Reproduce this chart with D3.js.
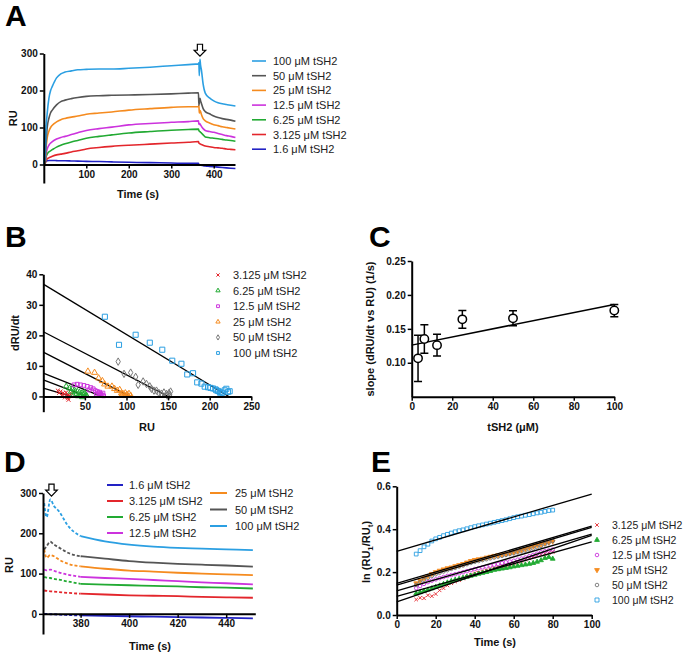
<!DOCTYPE html>
<html>
<head>
<meta charset="utf-8">
<script src="https://cdn.jsdelivr.net/npm/d3@7"></script>
<style>
  body { margin: 0; background: #fff; }
  svg text { font-family: "Liberation Sans", Arial, sans-serif; }
</style>
</head>
<body>
<svg id="fig" width="683" height="655"></svg>
<script>
// ---------- data ----------
// concentrations (uM), legend order of panel A
const concs = ["100", "50", "25", "12.5", "6.25", "3.125", "1.6"];

// Panel A / D: sensorgrams, RU vs time (s)
const assocTime = [0, 1.5, 3, 5, 8, 12, 16, 20, 30, 40, 50, 65, 80, 100, 130, 160, 200, 250, 300, 340, 364];
const dissocTime = [365, 366, 367.5, 369, 371, 375, 380, 390, 400, 410, 420, 430, 440, 451];

const assocRU = {
  "100":   [0, 108, 10, 90, 138, 179, 200, 211, 234, 245, 250, 253, 256, 257, 258, 258, 260, 263, 267, 270, 272],
  "50":    [0, 0, 5, 50, 100, 125, 140, 147, 161, 170, 174, 178, 181, 184, 186, 187, 188, 189, 191, 193, 194],
  "25":    [0, 0, 4, 40, 72, 90, 100, 106, 115, 121, 124.5, 128, 131, 136, 139, 142, 147, 151, 154.5, 156, 156],
  "12.5":  [0, 0, 3, 25, 42, 52, 58, 62, 69, 73, 76, 81, 86, 92, 97, 101, 107, 111, 114, 116, 118],
  "6.25":  [0, 0, 2, 18, 28, 34, 37, 40, 47, 52, 56, 61, 65, 71, 76, 80, 85, 89, 92.5, 94.5, 95.5],
  "3.125": [0, 0, 2, 10, 15, 18, 20, 22, 26, 28, 30, 34, 37, 42, 46, 49, 52, 55, 58, 60, 62],
  "1.6":   [0, 0, 4, 9, 10, 11, 11, 11, 10.5, 10, 10, 9.5, 9, 8.5, 8, 7, 6, 5, 4, 3, 3]
};
const dissocRU = {
  "100":   [275, 240, 284, 268, 255, 217, 193, 180, 172, 167, 164, 162, 160, 158],
  "50":    [160, 168, 179, 172, 165, 151, 143, 137, 131, 127, 124, 122, 120, 117],
  "25":    [160, 139, 146, 143, 135, 124, 118, 112, 107.5, 105, 102, 100, 98, 96],
  "12.5":  [110, 108, 110, 107, 103, 97, 92, 89, 87, 84, 81, 78, 76, 73],
  "6.25":  [92, 90, 89, 87, 85, 80, 74.5, 72.5, 71, 69.5, 68, 66, 65, 63],
  "3.125": [58, 57, 56, 55, 54, 52, 50, 48, 46, 45, 44, 42, 41, 40],
  "1.6":   [0, 0, -1, -1, -2, -3, -4, -5, -6, -7, -8, -9, -10, -11]
};
const injectionEnd = 367.5;
const solidFrom = 380; // panel D: dashed before this time

// Panel B: dRU/dt vs RU, [RU, dRU/dt]
const bConcs = ["3.125", "6.25", "12.5", "25", "50", "100"];
const bPoints = {
  "3.125": [[17.5,1.9],[19,1.2],[20.7,1.6],[22.3,0.3],[23.5,1.1],[25.5,0.8],[26,-0.3],[27.5,1.3],[28.9,0],[29.5,0.5],[29.5,-0.5],[30.3,-1.1],[31.5,0.3],[33.5,1.0]],
  "6.25":  [[27.5,3.3],[31.5,2.7],[33.5,1.6],[34.7,2.5],[36,0.3],[37.5,2.0],[39.6,0.9],[40.8,1.6],[42,0.1],[43.6,1.3],[44.8,0.5],[46.4,1.1],[47,-0.2],[48.8,0.8],[49.6,1.2],[50.8,0.5],[52,0.3]],
  "12.5":  [[37,3.8],[40.8,4],[44.8,3.8],[48.8,3.6],[52.8,3.3],[55,2.1],[57,2.9],[60,2.5],[62.5,1.9],[63.7,0.8],[65,1.6],[66.5,1.1],[67.7,1.4],[68,0.3],[69,0.8],[70.5,0.5],[71.7,1.1],[72.5,0.2]],
  "25":    [[53.6,8.2],[61.6,7.8],[66.5,6],[71,5.1],[73.7,4],[77.7,3.3],[82.5,3.3],[85.7,2.5],[89,1.9],[91.8,2.2],[94,1.1],[94,0.3],[96,0.8],[98.6,1.1],[98.6,0.2],[101,0.5],[103,0.9],[105,0.3]],
  "50":    [[90,11.4],[97,7.4],[105,7.8],[111,6.4],[114,3.8],[120,4.9],[124,4.1],[128,3.3],[130,2.5],[133,1.9],[136,1.9],[139,1.1],[142,0.9],[145,1.3],[148,0.8],[149,0.3],[151,1.1],[152,0.5],[153,1.6]],
  "100":   [[74,26.1],[91,16.9],[111,20.2],[128,17.6],[143,15.3],[155,11.7],[166,10.7],[173,7.2],[180,7.6],[185,4.6],[190,4.2],[194,3.2],[198,3],[201,2.8],[204,2.6],[207,2.3],[208,2.0],[210,1.8],[212,1.5],[213,1.0],[215,1.2],[218,2],[220,2.5],[222,1.5],[224,1.7]]
};
const bFitYIntercept = {"3.125": 2.7, "6.25": 5.4, "12.5": 7.6, "25": 14.5, "50": 21.2, "100": 36.8};
const bFitXIntercept = {"3.125": 33.5, "6.25": 52, "12.5": 70, "25": 104, "50": 150, "100": 223};

// Panel C: slope vs concentration
const cConc = [3.125, 6.25, 12.5, 25, 50, 100];
const cSlope = [0.1065, 0.135, 0.126, 0.164, 0.1655, 0.177];
const cErr = [0.034, 0.021, 0.016, 0.013, 0.011, 0.009];
const cFit = [[0, 0.126], [100, 0.186]];

// Panel E: ln(RU1/RUt) vs time
const eTime = [10,12,14,16,18,20,22,24,26,28,30,32,34,36,38,40,42,44,46,48,50,52,54,56,58,60,62,64,66,68,70,72,74,76,78,80];
const eValues = {
  "3.125": [.072,.080,.078,.092,.088,.098,.115,.125,.138,.148,.156,.162,.170,.178,.186,.195,.198,.204,.208,.214,.218,.222,.228,.232,.236,.242,.248,.252,.258,.264,.272,.278,.282,.286,.290,.294],
  "6.25":  [.100,.106,.112,.118,.124,.130,.137,.144,.151,.158,.164,.168,.173,.178,.183,.187,.192,.196,.200,.205,.210,.213,.216,.219,.222,.226,.229,.232,.235,.238,.242,.248,.255,.265,.270,.262],
  "12.5":  [.125,.135,.145,.153,.160,.166,.172,.177,.182,.186,.190,.194,.199,.204,.209,.214,.218,.222,.226,.230,.234,.238,.242,.246,.249,.253,.258,.263,.268,.274,.280,.286,.292,.297,.301,.305],
  "25":    [.148,.160,.172,.182,.192,.200,.207,.213,.218,.222,.228,.233,.238,.245,.252,.257,.260,.263,.268,.272,.276,.279,.282,.285,.288,.292,.297,.302,.308,.314,.320,.326,.330,.334,.338,.343],
  "50":    [.140,.152,.163,.173,.182,.190,.197,.203,.209,.215,.220,.226,.231,.237,.243,.248,.252,.256,.260,.264,.268,.272,.276,.280,.284,.288,.292,.296,.300,.305,.310,.316,.322,.330,.338,.345],
  "100":   [.284,.300,.318,.330,.345,.355,.362,.370,.376,.382,.388,.393,.397,.402,.407,.412,.416,.420,.424,.428,.432,.436,.440,.444,.449,.454,.458,.461,.465,.468,.472,.476,.479,.483,.487,.489]
};
const eFitT = [0, 100];
const eFit = {"3.125": [0.061, 0.371], "6.25": [0.087, 0.341], "12.5": [0.112, 0.377], "25": [0.147, 0.414], "50": [0.139, 0.408], "100": [0.297, 0.564]};

// ---------- styles ----------
const color = {"100": "#2b9fe2", "50": "#555555", "25": "#f58b1f", "12.5": "#cc33dd", "6.25": "#22aa33", "3.125": "#e3262c", "1.6": "#2222c4"};
const markColor = Object.assign({}, color, {"50": "#777777"});
const bSymbol = {"3.125": d3.symbolTimes || d3.symbolCross, "6.25": d3.symbolTriangle, "12.5": d3.symbolSquare, "25": d3.symbolTriangle, "50": d3.symbolDiamond, "100": d3.symbolSquare};
const bSize = {"3.125": 12, "6.25": 14, "12.5": 14, "25": 16, "50": 16, "100": 26};
const eSymbol = {"3.125": d3.symbolTimes || d3.symbolCross, "6.25": d3.symbolTriangle, "12.5": d3.symbolCircle, "25": d3.symbolTriangle, "50": d3.symbolCircle, "100": d3.symbolSquare};
const uLabel = c => `${c} \u03BCM tSH2`;

const svg = d3.select("#fig");

function styleAxis(g) {
  g.select(".domain").attr("stroke", "#000").attr("stroke-width", 2);
  g.selectAll(".tick line").attr("stroke", "#000").attr("stroke-width", 1.5);
  g.selectAll(".tick text").attr("font-size", 10).attr("font-weight", "bold")
    .attr("fill", "#111").attr("font-family", "'Liberation Sans', Arial, sans-serif");
}
function leftAxis(x0, y, ticks, fmt) {
  const g = svg.append("g").attr("transform", `translate(${x0},0)`)
    .call(d3.axisLeft(y).tickValues(ticks).tickFormat(fmt).tickSize(4).tickPadding(2).tickSizeOuter(0));
  styleAxis(g);
}
function bottomAxis(y0, x, ticks, fmt) {
  const g = svg.append("g").attr("transform", `translate(0,${y0})`)
    .call(d3.axisBottom(x).tickValues(ticks).tickFormat(fmt).tickSize(4).tickPadding(2).tickSizeOuter(0));
  styleAxis(g);
}
function title(txt, x, y, rotate) {
  const t = svg.append("text").attr("font-size", 11).attr("font-weight", "bold")
    .attr("text-anchor", "middle").attr("fill", "#111");
  if (rotate) t.attr("transform", `translate(${x},${y}) rotate(-90)`);
  else t.attr("x", x).attr("y", y);
  t.text(txt);
  return t;
}
function panelLetter(l, x, y) {
  svg.append("text").attr("x", x).attr("y", y).attr("font-size", 30)
    .attr("font-weight", "bold").text(l);
}
function downArrow(cx, top) {
  svg.append("path")
    .attr("d", `M${cx-2.6},${top} L${cx+2.6},${top} L${cx+2.6},${top+6} L${cx+5.8},${top+6} L${cx},${top+12} L${cx-5.8},${top+6} L${cx-2.6},${top+6} Z`)
    .attr("fill", "#fff").attr("stroke", "#000").attr("stroke-width", 1.2);
}
const fmtD = d3.format("d");
const line = d3.line().x(d => d[0]).y(d => d[1]).curve(d3.curveMonotoneX);

// ---------- Panel A ----------
panelLetter("A", 5, 26);
const xA = d3.scaleLinear().domain([0, 450]).range([43.8, 235]);
const yA = d3.scaleLinear().domain([-50, 300]).range([183, 53.5]);
concs.slice().reverse().forEach(c => {
  const pts = assocTime.map((t, i) => [xA(t), yA(assocRU[c][i])])
    .concat(dissocTime.map((t, i) => [xA(t), yA(dissocRU[c][i])]));
  svg.append("path").attr("d", line(pts)).attr("fill", "none")
    .attr("stroke", color[c]).attr("stroke-width", 1.6);
});
leftAxis(xA.range()[0], yA, [0, 100, 200, 300], fmtD);
bottomAxis(yA(0), xA, [100, 200, 300, 400], fmtD);
title("RU", 17, yA(125), true);
title("Time (s)", 138, 198);
downArrow(xA(injectionEnd), yA(325));
concs.forEach((c, i) => {
  const y = 61 + i * 14.7;
  svg.append("line").attr("x1", 252).attr("x2", 266).attr("y1", y).attr("y2", y)
    .attr("stroke", color[c]).attr("stroke-width", 1.6);
  svg.append("text").attr("x", 273).attr("y", y + 4).attr("font-size", 11)
    .attr("fill", "#222").text(uLabel(c));
});

// ---------- Panel B ----------
panelLetter("B", 5, 247);
const xB = d3.scaleLinear().domain([0, 250]).range([43.3, 251.3]);
const yB = d3.scaleLinear().domain([-5, 40]).range([411.7, 274.3]);
bConcs.forEach(c => {
  svg.append("line")
    .attr("x1", xB(0)).attr("y1", yB(bFitYIntercept[c]))
    .attr("x2", xB(bFitXIntercept[c])).attr("y2", yB(0))
    .attr("stroke", "#000").attr("stroke-width", 1.3);
});
bConcs.forEach(c => {
  const sym = d3.symbol().type(bSymbol[c]).size(bSize[c]);
  svg.append("g").selectAll("path").data(bPoints[c]).enter().append("path")
    .attr("transform", d => `translate(${xB(d[0])},${yB(d[1])})`)
    .attr("d", sym).attr("fill", "none").attr("stroke", markColor[c]).attr("stroke-width", 1);
});
leftAxis(xB.range()[0], yB, [0, 10, 20, 30, 40], fmtD);
bottomAxis(yB(0), xB, [50, 100, 150, 200, 250], fmtD);
title("dRU/dt", 19, 333, true);
title("RU", 147, 431);
bConcs.forEach((c, i) => {
  const y = 275 + i * 15.6;
  svg.append("path").attr("transform", `translate(218,${y})`)
    .attr("d", d3.symbol().type(bSymbol[c]).size(8)())
    .attr("fill", "none").attr("stroke", markColor[c]).attr("stroke-width", 1);
  svg.append("text").attr("x", 233).attr("y", y + 4).attr("font-size", 11)
    .attr("fill", "#222").text(uLabel(c));
});

// ---------- Panel C ----------
panelLetter("C", 369, 247);
const xC = d3.scaleLinear().domain([0, 100]).range([411.7, 614.3]);
const yC = d3.scaleLinear().domain([0.05, 0.25]).range([396.7, 261]);
svg.append("line").attr("x1", xC(cFit[0][0])).attr("y1", yC(cFit[0][1]))
  .attr("x2", xC(cFit[1][0])).attr("y2", yC(cFit[1][1]))
  .attr("stroke", "#000").attr("stroke-width", 1.5);
cConc.forEach((x, i) => {
  const cx = xC(x), lo = yC(cSlope[i] - cErr[i]), hi = yC(cSlope[i] + cErr[i]);
  svg.append("path")
    .attr("d", `M${cx},${lo} V${hi} M${cx-4},${hi} H${cx+4} M${cx-4},${lo} H${cx+4}`)
    .attr("stroke", "#000").attr("stroke-width", 1.5).attr("fill", "none");
  svg.append("circle").attr("cx", cx).attr("cy", yC(cSlope[i])).attr("r", 4.2)
    .attr("fill", "#fff").attr("stroke", "#000").attr("stroke-width", 1.5);
});
leftAxis(xC.range()[0], yC, [0.10, 0.15, 0.20, 0.25], d3.format(".2f"));
bottomAxis(yC.range()[0], xC, [0, 20, 40, 60, 80, 100], fmtD);
title("slope (dRU/dt vs RU) (1/s)", 374, 329, true);
title("tSH2 (\u03BCM)", 513, 431);

// ---------- Panel D ----------
panelLetter("D", 4, 472);
const xD = d3.scaleLinear().domain([364.5, 452]).range([43, 255.3]);
const yD = d3.scaleLinear().domain([-50, 300]).range([634, 493]);
concs.slice().reverse().forEach(c => {
  const pts = dissocTime.map((t, i) => [t, dissocRU[c][i]]);
  const dashed = pts.filter(p => p[0] <= solidFrom).map(p => [xD(p[0]), yD(p[1])]);
  const solid = pts.filter(p => p[0] >= solidFrom).map(p => [xD(p[0]), yD(p[1])]);
  svg.append("path").attr("d", line(dashed)).attr("fill", "none")
    .attr("stroke", color[c]).attr("stroke-width", 1.8).attr("stroke-dasharray", "3,2");
  svg.append("path").attr("d", line(solid)).attr("fill", "none")
    .attr("stroke", color[c]).attr("stroke-width", 1.8);
});
leftAxis(xD.range()[0], yD, [0, 100, 200, 300], fmtD);
bottomAxis(yD(0), xD, [380, 400, 420, 440], fmtD);
title("RU", 13, 565, true);
title("Time (s)", 150, 650);
downArrow(xD(injectionEnd + 0.5), yD(322));
const dCol1 = ["1.6", "3.125", "6.25", "12.5"], dCol2 = ["25", "50", "100"];
dCol1.forEach((c, i) => {
  const y = 485 + i * 16;
  svg.append("line").attr("x1", 107).attr("x2", 123).attr("y1", y).attr("y2", y)
    .attr("stroke", color[c]).attr("stroke-width", 2);
  svg.append("text").attr("x", 129).attr("y", y + 4).attr("font-size", 11)
    .attr("fill", "#222").text(uLabel(c));
});
dCol2.forEach((c, i) => {
  const y = 493 + i * 16.5;
  svg.append("line").attr("x1", 210).attr("x2", 227).attr("y1", y).attr("y2", y)
    .attr("stroke", color[c]).attr("stroke-width", 2);
  svg.append("text").attr("x", 235).attr("y", y + 4).attr("font-size", 11)
    .attr("fill", "#222").text(uLabel(c));
});

// ---------- Panel E ----------
panelLetter("E", 371, 472);
const xE = d3.scaleLinear().domain([0, 100]).range([396.7, 591.7]);
const yE = d3.scaleLinear().domain([0, 0.6]).range([615, 486.3]);
bConcs.forEach(c => {
  const sym = d3.symbol().type(eSymbol[c]).size(c === "100" ? 14 : 10);
  const g = svg.append("g");
  g.selectAll("path").data(eTime).enter().append("path")
    .attr("transform", (t, i) => `translate(${xE(t)},${yE(eValues[c][i])})` + (c === "25" ? " rotate(180)" : ""))
    .attr("d", sym)
    .attr("fill", c === "25" || c === "6.25" ? markColor[c] : "none")
    .attr("stroke", markColor[c]).attr("stroke-width", 0.9);
});
bConcs.forEach(c => {
  svg.append("line").attr("x1", xE(eFitT[0])).attr("y1", yE(eFit[c][0]))
    .attr("x2", xE(eFitT[1])).attr("y2", yE(eFit[c][1]))
    .attr("stroke", "#000").attr("stroke-width", 1.3);
});
leftAxis(xE.range()[0], yE, [0, 0.2, 0.4, 0.6], d3.format(".1f"));
bottomAxis(yE.range()[0], xE, [0, 20, 40, 60, 80, 100], fmtD);
title("Time (s)", 495, 646);
const eLab = svg.append("text").attr("font-size", 11).attr("font-weight", "bold")
  .attr("text-anchor", "middle").attr("fill", "#111")
  .attr("transform", "translate(370,552) rotate(-90)");
eLab.append("tspan").text("ln (RU");
eLab.append("tspan").attr("font-size", 8).attr("dy", 3).text("1");
eLab.append("tspan").attr("dy", -3).text("/RU");
eLab.append("tspan").attr("font-size", 8).attr("dy", 3).text("t");
eLab.append("tspan").attr("dy", -3).text(")");
bConcs.forEach((c, i) => {
  const y = 525 + i * 15;
  svg.append("path")
    .attr("transform", `translate(597,${y})` + (c === "25" ? " rotate(180)" : ""))
    .attr("d", d3.symbol().type(eSymbol[c]).size(c === "100" ? 16 : 10)())
    .attr("fill", c === "25" || c === "6.25" ? markColor[c] : "none")
    .attr("stroke", markColor[c]).attr("stroke-width", 0.9);
  svg.append("text").attr("x", 612).attr("y", y + 4).attr("font-size", 10.5)
    .attr("fill", "#222").text(uLabel(c));
});
</script>
</body>
</html>
